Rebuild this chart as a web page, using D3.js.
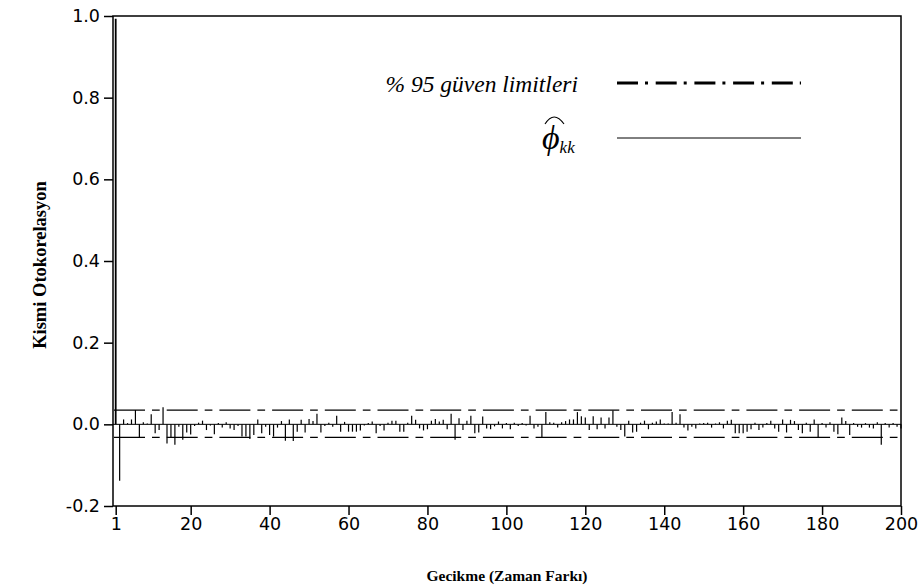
<!DOCTYPE html>
<html>
<head>
<meta charset="utf-8">
<script src="https://cdn.jsdelivr.net/npm/d3@7"></script>
<style>
  html, body { margin: 0; padding: 0; background: #fff; }
  svg { display: block; }
</style>
</head>
<body>
<svg id="chart" width="921" height="587"></svg>
<script>
// ---- data ----
const lagValues = [
  0.993, -0.138, 0.012, 0.003, 0.012, 0.035, -0.032, 0.005, 0.002, 0.025,
  -0.022, -0.014, 0.042, -0.047, -0.032, -0.050, -0.006, -0.038, -0.020, -0.025,
  -0.004, 0.004, 0.009, -0.014, -0.003, -0.024, 0.003, -0.008, 0.005, -0.010,
  -0.014, -0.004, -0.030, -0.030, -0.036, -0.026, 0.012, -0.022, -0.006, -0.026,
  -0.030, -0.008, 0.008, -0.040, 0.012, -0.041, -0.018, 0.011, -0.020, 0.013,
  0.008, 0.026, -0.020, -0.004, 0.004, -0.006, 0.021, -0.018, 0.006, -0.018,
  -0.018, -0.018, -0.015, -0.003, 0.003, 0.007, -0.022, -0.004, -0.015, 0.004,
  0.009, 0.009, -0.018, -0.018, 0.004, 0.021, 0.011, -0.010, -0.015, -0.012,
  0.009, 0.013, 0.007, 0.011, -0.012, 0.026, -0.038, 0.015, -0.014, 0.009,
  0.021, -0.022, -0.020, 0.019, -0.010, -0.012, -0.005, 0.007, -0.010, 0.003,
  -0.012, 0.004, -0.004, 0.003, -0.003, 0.021, -0.010, -0.006, -0.032, 0.030,
  0.005, 0.004, -0.008, 0.005, 0.008, 0.012, 0.012, 0.030, 0.020, 0.017,
  -0.014, 0.020, -0.012, 0.017, -0.010, 0.017, 0.034, -0.006, -0.014, -0.030,
  0.009, -0.020, -0.018, 0.004, 0.009, -0.012, 0.004, 0.007, 0.012, 0.002,
  0.002, 0.030, 0.004, 0.025, -0.008, -0.015, -0.006, -0.010, 0.002, 0.003,
  0.004, -0.008, 0.002, 0.005, -0.010, 0.009, 0.011, -0.022, -0.022, -0.022,
  -0.018, -0.012, 0.004, -0.014, -0.008, 0.003, 0.009, -0.010, -0.018, 0.012,
  -0.020, 0.011, 0.008, -0.014, -0.022, 0.004, -0.018, 0.012, -0.032, 0.003,
  -0.008, 0.005, -0.018, -0.024, 0.017, 0.008, -0.026, 0.003, -0.006, -0.008,
  0.003, -0.008, -0.010, 0.005, -0.050, 0.003, -0.008, 0.003, -0.006, -0.010
];
const lags = lagValues.map((v, i) => i + 1);
const confLimits = [0.035, -0.032];
const xTicks = [1, 20, 40, 60, 80, 100, 120, 140, 160, 180, 200];
const yTicks = [-0.2, 0.0, 0.2, 0.4, 0.6, 0.8, 1.0];
const yTitle = "Kismi Otokorelasyon";
const xTitle = "Gecikme (Zaman Farkı)";
const legendLimitLabel = "% 95 güven limitleri";

// ---- layout ----
const svg = d3.select("#chart");
const frameL = 113, frameR = 901, frameT = 16, frameB = 506;
const x = d3.scaleLinear().domain([1, 200]).range([115.7, 901]);
const y = d3.scaleLinear().domain([-0.2, 1.0]).range([frameB, frameT]);

const tickFont = "'DejaVu Sans', sans-serif";
const serif = "'Liberation Serif', 'Times New Roman', serif";

// confidence limit lines
svg.append("g").selectAll("line").data(confLimits).join("line")
  .attr("x1", frameL).attr("x2", frameR)
  .attr("y1", d => y(d)).attr("y2", d => y(d))
  .attr("stroke", "#000").attr("stroke-width", 1.2)
  .attr("stroke-dasharray", "31,7,7.7,7")
  .attr("stroke-dashoffset", -1);

// zero baseline
svg.append("line")
  .attr("x1", frameL).attr("x2", frameR)
  .attr("y1", y(0)).attr("y2", y(0))
  .attr("stroke", "#000").attr("stroke-width", 1);

// bars
svg.append("g").selectAll("line").data(lagValues).join("line")
  .attr("x1", (d, i) => x(lags[i])).attr("x2", (d, i) => x(lags[i]))
  .attr("y1", y(0)).attr("y2", d => y(d))
  .attr("stroke", "#000")
  .attr("stroke-width", (d, i) => i === 0 ? 1.8 : 1.2);

// frame
svg.append("rect")
  .attr("x", frameL).attr("y", frameT)
  .attr("width", frameR - frameL).attr("height", frameB - frameT)
  .attr("fill", "none").attr("stroke", "#000").attr("stroke-width", 1.5);

// y axis
const yAxis = d3.axisLeft(y).tickValues(yTicks).tickSize(9).tickSizeOuter(0)
  .tickFormat(d => d.toFixed(1)).tickPadding(4);
const gy = svg.append("g").attr("transform", `translate(${frameL},0)`).call(yAxis);
gy.select(".domain").remove();
gy.selectAll(".tick line").attr("stroke", "#000").attr("stroke-width", 1.5);
gy.selectAll(".tick text").attr("font-family", tickFont).attr("font-size", 17.5).attr("fill", "#000");

// x axis
const xAxis = d3.axisBottom(x).tickValues(xTicks).tickSize(9).tickSizeOuter(0)
  .tickFormat(d3.format("d")).tickPadding(3);
const gx = svg.append("g").attr("transform", `translate(0,${frameB})`).call(xAxis);
gx.select(".domain").remove();
gx.selectAll(".tick line").attr("stroke", "#000").attr("stroke-width", 1.5);
gx.selectAll(".tick text").attr("font-family", tickFont).attr("font-size", 17.5).attr("fill", "#000");

// axis titles
svg.append("text")
  .attr("transform", "translate(46,265) rotate(-90)")
  .attr("text-anchor", "middle")
  .attr("font-family", serif).attr("font-weight", "bold").attr("font-size", 18.5)
  .text(yTitle);
svg.append("text")
  .attr("x", 507).attr("y", 581)
  .attr("text-anchor", "middle")
  .attr("font-family", serif).attr("font-weight", "bold").attr("font-size", 15.5)
  .text(xTitle);

// legend
const lg = svg.append("g");
lg.append("text")
  .attr("x", 578).attr("y", 92)
  .attr("text-anchor", "end")
  .attr("font-family", serif).attr("font-style", "italic").attr("font-size", 23.5)
  .text(legendLimitLabel);
lg.append("line")
  .attr("x1", 617).attr("x2", 801).attr("y1", 83).attr("y2", 83)
  .attr("stroke", "#000").attr("stroke-width", 3)
  .attr("stroke-dasharray", "21,7,3,7.7");
const phi = lg.append("text")
  .attr("x", 542).attr("y", 149)
  .attr("font-family", serif).attr("font-style", "italic").attr("font-size", 34);
phi.append("tspan").text("ϕ");
phi.append("tspan").attr("font-size", 17).attr("dy", 4).text("kk");
lg.append("path")
  .attr("d", "M545,124 Q554,110 564,124")
  .attr("fill", "none").attr("stroke", "#000").attr("stroke-width", 1.1);
lg.append("line")
  .attr("x1", 617).attr("x2", 801).attr("y1", 138).attr("y2", 138)
  .attr("stroke", "#000").attr("stroke-width", 1);
</script>
</body>
</html>
